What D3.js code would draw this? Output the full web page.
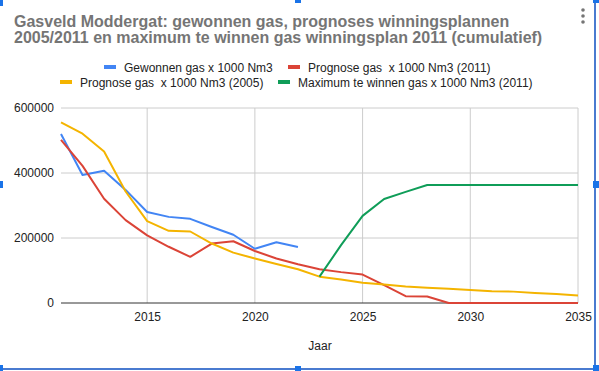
<!DOCTYPE html>
<html>
  <script src="https://cdn.jsdelivr.net/npm/d3@7"></script>
  <style>
    body{ margin: 0; background: #fff; }
    text{ font-family: Arial, "Liberation Sans", sans-serif; }
  </style>
  <body>
    <script>

var years = d3.range(2011, 2036)
var gewonnen = [520000, 394000, 407000, 348000, 280000, 265000, 259000, 234000, 210000, 167000, 187000, 172000]
var prog2011 = [502000, 422000, 321000, 255000, 208000, 173000, 142000, 183000, 190000, 160000, 137000, 119000,
  104000, 95000, 87500, 55000, 21000, 20000, 0, 0, 0, 0, 0, 0, 0]
var prog2005 = [556000, 521000, 466000, 343000, 252000, 222000, 220000, 183000, 155000, 137000, 120000, 104000,
  81000, 72000, 62000, 57000, 51000, 47000, 44000, 40000, 36000, 35000, 31000, 28000, 23000]
var maxYears = d3.range(2023, 2036)
var maximum = [81000, 178000, 268000, 320000, 342000, 363000, 363000, 363000, 363000, 363000, 363000, 363000, 363000]
var yTicks = [0, 200000, 400000, 600000]
var xTicks = [2015, 2020, 2025, 2030, 2035]

var series = [
  {name: 'Gewonnen gas x 1000 Nm3', color: '#4285f4', xs: years.slice(0, gewonnen.length), ys: gewonnen},
  {name: 'Prognose gas  x 1000 Nm3 (2011)', color: '#db4437', xs: years, ys: prog2011},
  {name: 'Prognose gas  x 1000 Nm3 (2005)', color: '#f4b400', xs: years, ys: prog2005},
  {name: 'Maximum te winnen gas x 1000 Nm3 (2011)', color: '#0f9d58', xs: maxYears, ys: maximum}
]

var W = 599, H = 371
var svg = d3.select('body').append('svg').attr('width', W).attr('height', H)

var x = d3.scaleLinear().domain([2011, 2035]).range([61, 578])
var y = d3.scaleLinear().domain([0, 600000]).range([303, 108])

// title
var title = svg.append('g').attr('fill', '#757575').style('font-weight', 'bold').style('font-size', '16px')
title.append('text').attr('x', 14).attr('y', 27).text('Gasveld Moddergat: gewonnen gas, prognoses winningsplannen')
title.append('text').attr('x', 14).attr('y', 43).text('2005/2011 en maximum te winnen gas winningsplan 2011 (cumulatief)')

// menu dots
svg.selectAll('circle.dot').data([10, 16, 22]).enter().append('circle')
  .attr('cx', 583).attr('cy', d => d).attr('r', 1.8).attr('fill', '#757575')

// legend
var legendPos = [[104, 67], [288, 67], [60, 82], [278, 82]]
var lg = svg.selectAll('g.leg').data(series).enter().append('g')
  .attr('transform', (d, i) => 'translate(' + legendPos[i][0] + ',' + legendPos[i][1] + ')')
lg.append('rect').attr('x', 0).attr('y', -2).attr('width', 12).attr('height', 4).attr('fill', d => d.color)
lg.append('text').attr('x', 20).attr('y', 4.5).style('font-size', '12px').attr('fill', '#222')
  .style('white-space', 'pre').text(d => d.name)

// grid
svg.append('g').selectAll('line').data(yTicks.slice(1)).enter().append('line')
  .attr('x1', 61).attr('x2', 578).attr('y1', d => y(d)).attr('y2', d => y(d))
  .attr('stroke', '#ccc').attr('stroke-width', 1)
svg.append('g').selectAll('line').data(xTicks).enter().append('line')
  .attr('x1', d => x(d)).attr('x2', d => x(d)).attr('y1', y(600000)).attr('y2', y(0))
  .attr('stroke', '#ccc').attr('stroke-width', 1)

// axes labels via d3 axes
svg.append('g').attr('transform', 'translate(61,0)')
  .call(d3.axisLeft(y).tickValues(yTicks).tickSize(0).tickPadding(7).tickFormat(d3.format('d')))
svg.append('g').attr('transform', 'translate(0,303)')
  .call(d3.axisBottom(x).tickValues(xTicks).tickSize(0).tickPadding(9).tickFormat(d3.format('d')))
svg.selectAll('.domain').remove()
svg.selectAll('.tick text').style('font-size', '12px').attr('fill', '#222')
  .style('font-family', 'Arial, "Liberation Sans", sans-serif')

svg.append('text').attr('x', 320).attr('y', 350).attr('text-anchor', 'middle')
  .style('font-size', '12px').attr('fill', '#222').text('Jaar')

// baseline
svg.append('line').attr('x1', 61).attr('x2', 578).attr('y1', y(0)).attr('y2', y(0))
  .attr('stroke', '#333').attr('stroke-width', 1)

// lines
var line = d3.line().x(d => x(d[0])).y(d => y(d[1]))
svg.append('g').selectAll('path').data(series).enter().append('path')
  .attr('d', d => line(d.xs.map((v, i) => [v, d.ys[i]])))
  .attr('fill', 'none').attr('stroke', d => d.color).attr('stroke-width', 2)
  .attr('stroke-linejoin', 'round')

// selection frame
var frame = svg.append('g').attr('fill', '#1a73e8')
frame.append('line').attr('x1', 595).attr('x2', 595).attr('y1', 0).attr('y2', 369)
  .attr('stroke', '#4a7bd0').attr('stroke-width', 2)
frame.append('line').attr('x1', 0).attr('x2', 596).attr('y1', 369).attr('y2', 369)
  .attr('stroke', '#4a7bd0').attr('stroke-width', 2)
var handles = [[0, 0, 3, 6], [295, 0, 6, 3], [593, 0, 6, 3], [0, 181, 3, 7], [593, 181, 6, 7], [0, 365, 3, 6], [295, 366, 6, 5], [593, 365, 6, 6]]
frame.selectAll('rect').data(handles).enter().append('rect')
  .attr('x', d => d[0]).attr('y', d => d[1]).attr('width', d => d[2]).attr('height', d => d[3])

    </script>
  </body>
</html>
